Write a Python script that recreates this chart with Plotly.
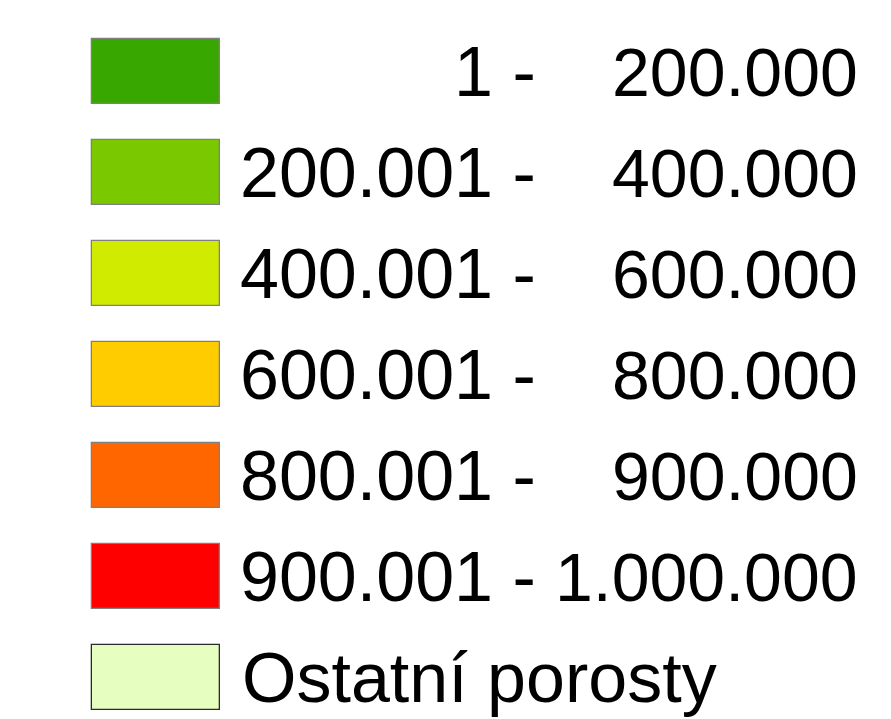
import plotly.graph_objects as go

# Legend classes
lower_labels = ["1 -", "200.001 -", "400.001 -", "600.001 -", "800.001 -", "900.001 -", ""]
upper_labels = ["200.000", "400.000", "600.000", "800.000", "900.000", "1.000.000", ""]
other_label = "Ostatní porosty"
colors = ["#38A800", "#7AC800", "#D0EB00", "#FFCC00", "#FF6600", "#FF0000", "#E6FFC0"]
border_colors = ["#808080"] * 6 + ["#2a2a2a"]

n = len(colors)
idx = list(range(n))

fig = go.Figure()
fig.add_trace(go.Bar(
    orientation="h",
    y=idx,
    x=[128] * n,
    base=[92] * n,
    width=0.644,
    marker=dict(color=colors, line=dict(color=border_colors, width=1.3)),
    hoverinfo="skip",
    showlegend=False,
))

font_left = dict(family="Liberation Sans, Arial, sans-serif", size=70, color="#000000")
font_right = dict(family="Liberation Sans, Arial, sans-serif", size=68, color="#000000")
for i in idx:
    if lower_labels[i]:
        fig.add_annotation(x=537, y=i, text=lower_labels[i], xanchor="right", yanchor="middle",
                           showarrow=False, font=font_left, borderpad=0)
    if upper_labels[i]:
        fig.add_annotation(x=859, y=i, text=upper_labels[i], xanchor="right", yanchor="middle",
                           showarrow=False, font=font_right, borderpad=0)
fig.add_annotation(x=241, y=n - 1, text=other_label, xanchor="left", yanchor="middle",
                   showarrow=False, font=font_left, borderpad=0)

fig.update_layout(
    width=891, height=719,
    margin=dict(l=0, r=0, t=0, b=0),
    paper_bgcolor="white", plot_bgcolor="white",
    xaxis=dict(range=[8, 899], visible=False, fixedrange=True),
    yaxis=dict(range=[6.490, -0.629], visible=False, fixedrange=True),
    bargap=0,
)
fig.write_html("out.html")
